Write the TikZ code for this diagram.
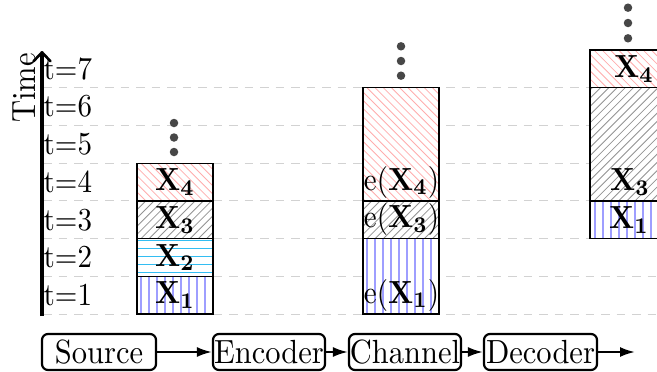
\documentclass[tikz,border=0pt]{standalone}
\usetikzlibrary{arrows.meta}
\newcommand\Lb[1]{\scalebox{2.9}[3.2]{#1}}
\newcommand\Bt[1]{\scalebox{3.05}[3.35]{#1}}
\begin{document}
\begin{tikzpicture}[x=1pt,y=-1pt,
  lbl/.style={inner sep=0pt},
  grid/.style={gray!35,line width=1pt,dash pattern=on 8.5pt off 7pt},
  cell/.style={draw=black,line width=1.3pt},
  hv/.style={blue!38,line width=1.8pt},
  hh/.style={cyan!80,line width=1.2pt},
  hne/.style={gray!85,line width=0.8pt},
  hnw/.style={red!32,line width=0.8pt},
  dot/.style={circle,fill=black!72,inner sep=0pt,minimum size=8.5pt},
  blk/.style={draw,rounded corners=6pt,line width=2.2pt,minimum height=36pt,inner xsep=0pt,inner ysep=0pt},
  conn/.style={line width=2.2pt,-{Latex[length=15pt,width=10pt]}}]
\useasboundingbox (0,0) rectangle (657,372);
\clip (0,0) rectangle (657,372);
% dashed time lines
\foreach \k in {0,...,6}
  \draw[grid] (43,{314-37.7*\k}) -- (657,{314-37.7*\k});
% time axis
\draw[line width=3.2pt,-{Straight Barb[length=9pt,width=17pt,line width=2.6pt,round]}] (42,316) -- (42,51);
\node[inner sep=0pt,rotate=90,anchor=south] (time) at (36.5,88) {\Bt{Time}};
\foreach \k in {1,...,7}
  \node[lbl,anchor=west] (t\k) at (43.5,{314-37.7*(\k-0.5)}) {\Lb{t=\k}};
% hatching macros: #1 x-left, #2 y-bottom(px), #3 y-top(px)
\newcommand\hatchv[3]{\pgfmathsetmacro\xo{2*floor((#1+4)/2)+1}%
  \foreach \k in {0,...,9} \draw[hv] (\xo+8*\k,#2) -- (\xo+8*\k,#3);}
\newcommand\hatchh[3]{\foreach \c in {4,12,...,40} \draw[hh] (#1,#2-\c) -- (#1+76,#2-\c);}
\newcommand\hatchne[3]{\foreach \c in {-160,-151.8,...,80} \draw[hne] (#1+\c,#2) -- (#1+\c+160,#2-160);}
\newcommand\hatchnw[3]{\foreach \c in {-160,-151.8,...,80} \draw[hnw] (#1+\c,#3) -- (#1+\c+160,#3+160);}
\newcommand\cellbox[4]{%
  \pgfmathsetmacro\yb{314-37.7*#2}\pgfmathsetmacro\yt{314-37.7*#3}%
  \fill[white] (#1,\yb) rectangle (#1+76,\yt);
  \begin{scope}
    \clip (#1,\yb) rectangle (#1+76,\yt);
    #4{#1}{\yb}{\yt}
  \end{scope}
  \draw[cell] (#1,\yb) rectangle (#1+76,\yt);}
% source column
\cellbox{137}{0}{1}{\hatchv}
\cellbox{137}{1}{2}{\hatchh}
\cellbox{137}{2}{3}{\hatchne}
\cellbox{137}{3}{4}{\hatchnw}
\node[lbl] (s1) at (175,{314-37.7*0.5}) {\Lb{$\mathbf{X_1}$}};
\node[lbl] (s2) at (175,{314-37.7*1.5}) {\Lb{$\mathbf{X_2}$}};
\node[lbl] (s3) at (175,{314-37.7*2.5}) {\Lb{$\mathbf{X_3}$}};
\node[lbl] (s4) at (175,{314-37.7*3.5}) {\Lb{$\mathbf{X_4}$}};
\node[dot] (sd1) at (174,152) {};
\node[dot] (sd2) at (174,137.5) {};
\node[dot] (sd3) at (174,123) {};
% channel column
\cellbox{363}{0}{2}{\hatchv}
\cellbox{363}{2}{3}{\hatchne}
\cellbox{363}{3}{6}{\hatchnw}
\node[lbl] (c1) at (401.5,{314-37.7*0.5}) {\Lb{e$(\mathbf{X_1})$}};
\node[lbl] (c3) at (401.5,{314-37.7*2.5}) {\Lb{e$(\mathbf{X_3})$}};
\node[lbl] (c4) at (401.5,{314-37.7*3.5}) {\Lb{e$(\mathbf{X_4})$}};
\node[dot] (cd1) at (401,75.7) {};
\node[dot] (cd2) at (401,61) {};
\node[dot] (cd3) at (401,46.3) {};
% decoder column
\cellbox{590}{2}{3}{\hatchv}
\cellbox{590}{3}{6}{\hatchne}
\cellbox{590}{6}{7}{\hatchnw}
\node[lbl] (d1) at (629,{314-37.7*2.5}) {\Lb{$\mathbf{X_1}$}};
\node[lbl] (d3) at (630,{314-37.7*3.5}) {\Lb{$\mathbf{X_3}$}};
\node[lbl] (d4) at (634,{314-37.7*6.5}) {\Lb{$\mathbf{X_4}$}};
\node[dot] (dd1) at (628,38.3) {};
\node[dot] (dd2) at (628,23) {};
\node[dot] (dd3) at (628,7.7) {};
% block chain
\node[blk,minimum width=114pt] (src) at (99,352) {\Bt{Source}};
\node[blk,minimum width=112pt] (enc) at (269,352) {\Bt{Encoder}};
\node[blk,minimum width=112pt] (chn) at (405,352) {\Bt{Channel}};
\node[blk,minimum width=113pt] (dec) at (540.5,352) {\Bt{Decoder}};
\coordinate (out) at (635,352);
\draw[conn] (src) -- (enc);
\draw[conn] (enc) -- (chn);
\draw[conn] (chn) -- (dec);
\draw[conn] (dec) -- (out);
\end{tikzpicture}
\end{document}
